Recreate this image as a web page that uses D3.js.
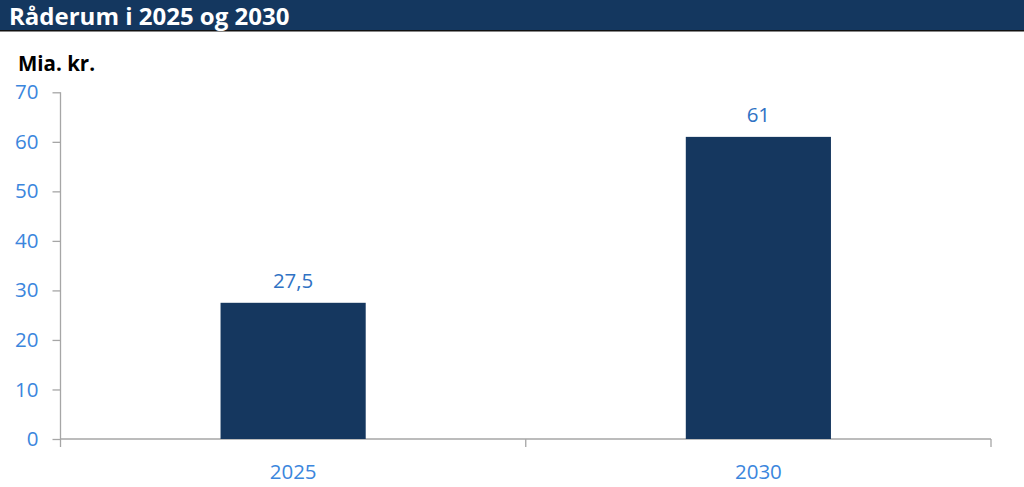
<!DOCTYPE html>
<html><head><meta charset="utf-8">
<script src="https://cdn.jsdelivr.net/npm/d3@7"></script>
<style>html,body{margin:0;padding:0;background:#fff;overflow:hidden}</style>
</head><body>
<script>
const categories = ["2025", "2030"];
const values = [27.5, 61];
const valueLabels = ["27,5", "61"];
const yTicks = [0, 10, 20, 30, 40, 50, 60, 70];
const title = "Råderum i 2025 og 2030";
const unitLabel = "Mia. kr.";

const W = 1024, H = 487;
const svg = d3.select("body").append("svg").attr("width", W).attr("height", H);
const font = "'Open Sans', 'Noto Sans', sans-serif";

svg.append("rect").attr("x",0).attr("y",0).attr("width",W).attr("height",30).attr("fill","#14375f");
svg.append("rect").attr("x",0).attr("y",30).attr("width",W).attr("height",1.5).attr("fill","#111");
svg.append("text").attr("x",9).attr("y",25).attr("fill","#fff")
  .attr("font-family",font).attr("font-weight",700).attr("font-size",24).text(title);
svg.append("text").attr("x",18).attr("y",71).attr("fill","#000")
  .attr("font-family",font).attr("font-weight",700).attr("font-size",20.5).text(unitLabel);

const x0 = 60.5, x1 = 991, yTop = 92.3, yBot = 439;
const x = d3.scaleBand().domain(categories).range([x0, x1]).paddingInner(0.688).paddingOuter(0.344);
const y = d3.scaleLinear().domain([0, 70]).range([yBot, yTop]);

const grey = "#a6a6a6";
// y axis
const ya = svg.append("g").attr("transform",`translate(${x0},0)`)
  .call(d3.axisLeft(y).tickValues(yTicks).tickSize(8).tickPadding(14).tickFormat(d3.format("d")));
ya.select(".domain").attr("stroke",grey).attr("stroke-width",1.3).attr("d",`M0,${yTop}H0V${yBot}`);
ya.selectAll(".tick line").attr("stroke",grey).attr("stroke-width",1.3);
ya.selectAll(".tick text").attr("fill","#3b86dd").attr("font-family",font).attr("font-size",20.5);

// x axis
const xa = svg.append("g").attr("transform",`translate(0,${yBot})`)
  .call(d3.axisBottom(x).tickSize(0).tickPadding(25));
xa.select(".domain").remove();
xa.selectAll(".tick text").attr("fill","#3b86dd").attr("font-family",font).attr("font-size",20.5);
svg.append("line").attr("x1",x0).attr("x2",x1).attr("y1",yBot).attr("y2",yBot).attr("stroke",grey).attr("stroke-width",1.3);
const bounds = [x0, (x0+x1)/2, x1];
svg.selectAll(".xt").data(bounds).enter().append("line")
  .attr("x1",d=>d).attr("x2",d=>d).attr("y1",yBot).attr("y2",yBot+8).attr("stroke",grey).attr("stroke-width",1.3);

// bars
svg.selectAll(".bar").data(values).enter().append("rect")
  .attr("x",(d,i)=>x(categories[i])).attr("width",x.bandwidth())
  .attr("y",d=>y(d)).attr("height",d=>yBot-y(d)).attr("fill","#15375f");

svg.selectAll(".vl").data(values).enter().append("text")
  .attr("x",(d,i)=>x(categories[i])+x.bandwidth()/2).attr("y",d=>y(d)-15)
  .attr("text-anchor","middle").attr("fill","#2f72c4").attr("font-family",font).attr("font-size",20.5)
  .text((d,i)=>valueLabels[i]);
</script>
</body></html>
